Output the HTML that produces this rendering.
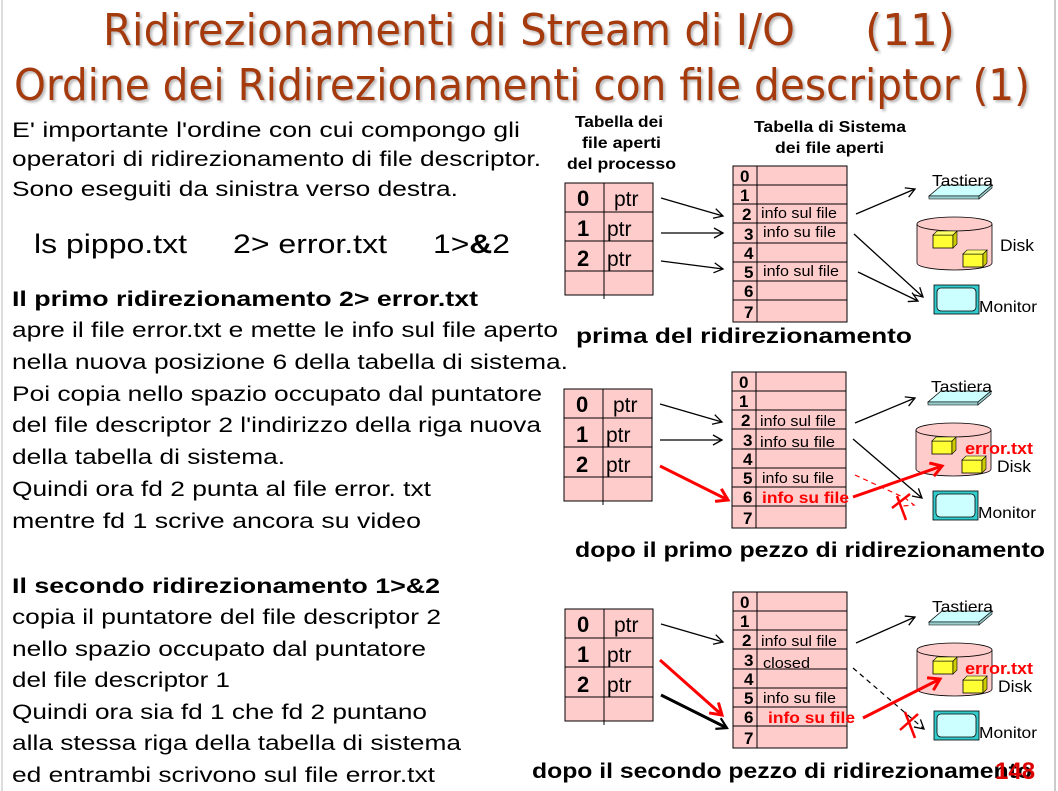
<!DOCTYPE html>
<html><head><meta charset="utf-8"><style>
html,body{margin:0;padding:0;background:#fff;}
svg{display:block;}
</style></head><body>
<svg width="1058" height="791" viewBox="0 0 1058 791" xmlns="http://www.w3.org/2000/svg" font-family="Liberation Sans, Arial, sans-serif">
<defs>
<marker id="ah" markerWidth="12" markerHeight="12" refX="10" refY="6" orient="auto" markerUnits="userSpaceOnUse"><path d="M1,1 L10,6 L1,11" fill="none" stroke="#000" stroke-width="1.3"/></marker>
<marker id="ahb" markerWidth="14" markerHeight="14" refX="11" refY="7" orient="auto" markerUnits="userSpaceOnUse"><path d="M1,1 L11,7 L1,13" fill="none" stroke="#000" stroke-width="2.2"/></marker>
<marker id="ahr" markerWidth="16" markerHeight="16" refX="12" refY="8" orient="auto" markerUnits="userSpaceOnUse"><path d="M1,1 L12,8 L1,15" fill="none" stroke="#f00" stroke-width="3"/></marker>
<filter id="sh" x="-5%" y="-5%" width="110%" height="120%"><feDropShadow dx="2" dy="2" stdDeviation="1.2" flood-color="#999" flood-opacity="0.7"/></filter>
<g id="base">
  <rect x="565" y="183" width="88" height="112" fill="#ffcccc" stroke="#000" stroke-width="1"/>
  <line x1="565" y1="212" x2="653" y2="212" stroke="#000"/>
  <line x1="565" y1="241" x2="653" y2="241" stroke="#000"/>
  <line x1="565" y1="271" x2="653" y2="271" stroke="#000"/>
  <line x1="604" y1="183" x2="604" y2="299" stroke="#000"/>
  <text x="577" y="206" font-size="22" font-weight="bold">0</text>
  <text x="577" y="236" font-size="22" font-weight="bold">1</text>
  <text x="577" y="266" font-size="22" font-weight="bold">2</text>
  <text x="614" y="206" font-size="21">ptr</text>
  <text x="607" y="236" font-size="21">ptr</text>
  <text x="607" y="266" font-size="21">ptr</text>
  <rect x="733" y="166" width="114" height="156" fill="#ffcccc" stroke="#000" stroke-width="1"/>
  <g stroke="#000" stroke-width="1">
  <line x1="733" y1="185" x2="847" y2="185"/><line x1="733" y1="204" x2="847" y2="204"/>
  <line x1="733" y1="223" x2="847" y2="223"/><line x1="733" y1="243" x2="847" y2="243"/>
  <line x1="733" y1="262" x2="847" y2="262"/><line x1="733" y1="281" x2="847" y2="281"/>
  <line x1="733" y1="300" x2="847" y2="300"/><line x1="757" y1="166" x2="757" y2="322"/>
  </g>
  <g font-size="17" font-weight="bold">
  <text x="740" y="182">0</text><text x="740" y="201">1</text><text x="742" y="220">2</text>
  <text x="744" y="240">3</text><text x="744" y="259">4</text><text x="744" y="278">5</text>
  <text x="744" y="297">6</text><text x="744" y="318">7</text>
  </g>
  <polygon points="929,196 942,185 992,185 979,196" fill="#ccffff" stroke="#000" stroke-width="0.8"/>
  <polygon points="929,196 979,196 979,199 929,199" fill="#99cccc" stroke="#000" stroke-width="0.6"/>
  <polygon points="979,196 992,185 992,188 979,199" fill="#99cccc" stroke="#000" stroke-width="0.6"/>
  <text x="932" y="186" font-size="16" textLength="61" lengthAdjust="spacingAndGlyphs">Tastiera</text>
  <path d="M917,224 L917,263 A37.5,7 0 0 0 992,263 L992,224" fill="#ffcccc" stroke="#000" stroke-width="0.8"/>
  <ellipse cx="954.5" cy="224" rx="37.5" ry="7" fill="#ffcccc" stroke="#000" stroke-width="0.8"/>
  <rect x="933" y="235" width="20" height="13" fill="#ffff33" stroke="#000" stroke-width="0.8"/>
  <polygon points="953,235 957,231 957,244 953,248" fill="#cccc00" stroke="#000" stroke-width="0.6"/>
  <polygon points="933,235 937,231 957,231 953,235" fill="#ffff66" stroke="#000" stroke-width="0.6"/>
  <rect x="963" y="254" width="20" height="13" fill="#ffff33" stroke="#000" stroke-width="0.8"/>
  <polygon points="983,254 987,250 987,263 983,267" fill="#cccc00" stroke="#000" stroke-width="0.6"/>
  <polygon points="963,254 967,250 987,250 983,254" fill="#ffff66" stroke="#000" stroke-width="0.6"/>
  <rect x="934" y="285" width="45" height="29" fill="#33cccc" stroke="#000" stroke-width="0.8"/>
  <rect x="937" y="288" width="39" height="23" rx="4" fill="#ccffff" stroke="#000" stroke-width="0.8"/>
  <text x="979" y="312" font-size="16" textLength="58" lengthAdjust="spacingAndGlyphs">Monitor</text>
</g>
</defs>

<line x1="1055" y1="0" x2="1055" y2="791" stroke="#ccc" stroke-width="2"/>
<line x1="2" y1="0" x2="2" y2="791" stroke="#ddd" stroke-width="2"/>

<g fill="#a53a08" filter="url(#sh)" font-family="DejaVu Sans Condensed, DejaVu Sans, sans-serif">
<text x="103" y="45" font-size="44" textLength="692" lengthAdjust="spacingAndGlyphs">Ridirezionamenti di Stream di I/O</text>
<text x="865" y="45" font-size="44" textLength="90" lengthAdjust="spacingAndGlyphs">(11)</text>
<text x="14" y="100" font-size="44" textLength="1016" lengthAdjust="spacingAndGlyphs">Ordine dei Ridirezionamenti con file descriptor (1)</text>
</g>

<g font-size="21" fill="#000">
<text x="12" y="137" textLength="508" lengthAdjust="spacingAndGlyphs">E'  importante l'ordine con cui compongo gli</text>
<text x="12" y="166" textLength="529" lengthAdjust="spacingAndGlyphs">operatori di ridirezionamento di file descriptor.</text>
<text x="12" y="196" textLength="446" lengthAdjust="spacingAndGlyphs">Sono eseguiti da sinistra verso destra.</text>
<text x="34" y="253" font-size="27" textLength="153" lengthAdjust="spacingAndGlyphs">ls pippo.txt</text>
<text x="233" y="253" font-size="27" textLength="154" lengthAdjust="spacingAndGlyphs">2&gt; error.txt</text>
<text x="433" y="253" font-size="27" textLength="77" lengthAdjust="spacingAndGlyphs">1&gt;<tspan font-weight="bold">&amp;</tspan>2</text>
<text x="12" y="306" font-weight="bold" textLength="466" lengthAdjust="spacingAndGlyphs">Il primo ridirezionamento  2&gt; error.txt</text>
<text x="12" y="337" textLength="546" lengthAdjust="spacingAndGlyphs">apre il file error.txt e mette le info sul file aperto</text>
<text x="12" y="369" textLength="556" lengthAdjust="spacingAndGlyphs">nella nuova posizione 6 della tabella di sistema.</text>
<text x="12" y="401" textLength="530" lengthAdjust="spacingAndGlyphs">Poi copia nello spazio occupato dal puntatore</text>
<text x="12" y="432" textLength="529" lengthAdjust="spacingAndGlyphs">del file descriptor 2 l'indirizzo della riga nuova</text>
<text x="12" y="464" textLength="273" lengthAdjust="spacingAndGlyphs">della tabella di sistema.</text>
<text x="12" y="496" textLength="419" lengthAdjust="spacingAndGlyphs">Quindi ora fd 2 punta al file error. txt</text>
<text x="12" y="528" textLength="409" lengthAdjust="spacingAndGlyphs">mentre fd  1 scrive ancora su video</text>
<text x="12" y="593" font-weight="bold" textLength="428" lengthAdjust="spacingAndGlyphs">Il secondo ridirezionamento  1&gt;&amp;2</text>
<text x="12" y="624" textLength="429" lengthAdjust="spacingAndGlyphs">copia il puntatore del file descriptor 2</text>
<text x="12" y="656" textLength="414" lengthAdjust="spacingAndGlyphs">nello spazio occupato dal puntatore</text>
<text x="12" y="687" textLength="218" lengthAdjust="spacingAndGlyphs">del file descriptor 1</text>
<text x="12" y="719" textLength="415" lengthAdjust="spacingAndGlyphs">Quindi ora sia fd 1 che fd 2 puntano</text>
<text x="12" y="750" textLength="449" lengthAdjust="spacingAndGlyphs">alla stessa riga della tabella di sistema</text>
<text x="12" y="782" textLength="423" lengthAdjust="spacingAndGlyphs">ed entrambi scrivono sul file error.txt</text>
</g>

<g font-size="16" font-weight="bold" lengthAdjust="spacingAndGlyphs">
<text x="575" y="127" textLength="88" lengthAdjust="spacingAndGlyphs">Tabella dei</text>
<text x="582" y="148" textLength="79" lengthAdjust="spacingAndGlyphs">file aperti</text>
<text x="567" y="169" textLength="109" lengthAdjust="spacingAndGlyphs">del processo</text>
<text x="754" y="132" textLength="152" lengthAdjust="spacingAndGlyphs">Tabella di Sistema</text>
<text x="775" y="153" textLength="109" lengthAdjust="spacingAndGlyphs">dei file aperti</text>
</g>

<!-- Diagram 1 -->
<use href="#base"/>
<text x="1000" y="251" font-size="17" textLength="34" lengthAdjust="spacingAndGlyphs">Disk</text>
<g font-size="15">
<text x="761" y="218" textLength="76" lengthAdjust="spacingAndGlyphs">info sul file</text>
<text x="763" y="237" textLength="73" lengthAdjust="spacingAndGlyphs">info su file</text>
<text x="763" y="276" textLength="76" lengthAdjust="spacingAndGlyphs">info sul file</text></g>
<g stroke="#000" stroke-width="1.3" marker-end="url(#ah)">
<line x1="661" y1="198" x2="723" y2="216"/><line x1="661" y1="233" x2="723" y2="233"/><line x1="661" y1="261" x2="723" y2="269"/>
<line x1="856" y1="214" x2="915" y2="189"/><line x1="854" y1="234" x2="923" y2="297"/><line x1="858" y1="272" x2="918" y2="301"/>
</g>
<text x="576" y="343" font-size="21" font-weight="bold" textLength="336" lengthAdjust="spacingAndGlyphs">prima del ridirezionamento</text>

<!-- Diagram 2 -->
<use href="#base" transform="translate(-1,206)"/>
<text x="997" y="472" font-size="17" textLength="34" lengthAdjust="spacingAndGlyphs">Disk</text>
<g font-size="15">
<text x="760" y="426" textLength="76" lengthAdjust="spacingAndGlyphs">info sul file</text>
<text x="760" y="447" textLength="75" lengthAdjust="spacingAndGlyphs">info su file</text>
<text x="762" y="483" textLength="72" lengthAdjust="spacingAndGlyphs">info su file</text></g>
<text x="762" y="503" font-size="16" font-weight="bold" fill="#f00" textLength="87" lengthAdjust="spacingAndGlyphs">info su file</text>
<text x="965" y="454" font-size="17" font-weight="bold" fill="#f00" textLength="68" lengthAdjust="spacingAndGlyphs">error.txt</text>
<g stroke="#000" stroke-width="1.3" marker-end="url(#ah)">
<line x1="660" y1="404" x2="722" y2="422"/><line x1="660" y1="440" x2="722" y2="440"/>
<line x1="855" y1="423" x2="915" y2="398"/><line x1="853" y1="439" x2="922" y2="498"/>
</g>
<line x1="660" y1="466" x2="728" y2="500" stroke="#f00" stroke-width="3" marker-end="url(#ahr)"/>
<line x1="853" y1="497" x2="942" y2="466" stroke="#f00" stroke-width="3" marker-end="url(#ahr)"/>
<path d="M855,475 L905,498 L914,505 L903,506" fill="none" stroke="#f00" stroke-width="1.2" stroke-dasharray="5,4"/>
<path d="M892,508 L910,494 M897,496 L906,520" stroke="#f00" stroke-width="2.5" fill="none"/>
<text x="575" y="557" font-size="21" font-weight="bold" textLength="470" lengthAdjust="spacingAndGlyphs">dopo il primo pezzo di ridirezionamento</text>

<!-- Diagram 3 -->
<use href="#base" transform="translate(0,426)"/>
<text x="998" y="692" font-size="17" textLength="34" lengthAdjust="spacingAndGlyphs">Disk</text>
<g font-size="15">
<text x="761" y="646" textLength="76" lengthAdjust="spacingAndGlyphs">info sul file</text>
<text x="763" y="668" textLength="47" lengthAdjust="spacingAndGlyphs">closed</text>
<text x="763" y="703" textLength="73" lengthAdjust="spacingAndGlyphs">info su file</text></g>
<text x="768" y="723" font-size="16" font-weight="bold" fill="#f00" textLength="87" lengthAdjust="spacingAndGlyphs">info su file</text>
<text x="965" y="674" font-size="17" font-weight="bold" fill="#f00" textLength="68" lengthAdjust="spacingAndGlyphs">error.txt</text>
<g stroke="#000" stroke-width="1.3" marker-end="url(#ah)">
<line x1="661" y1="624" x2="723" y2="642"/><line x1="856" y1="643" x2="915" y2="617"/>
</g>
<line x1="853" y1="668" x2="924" y2="729" stroke="#000" stroke-width="1.2" stroke-dasharray="5,4" marker-end="url(#ah)"/>
<line x1="660" y1="660" x2="722" y2="715" stroke="#f00" stroke-width="3" marker-end="url(#ahr)"/>
<line x1="661" y1="695" x2="727" y2="728" stroke="#000" stroke-width="3" marker-end="url(#ahb)"/>
<line x1="863" y1="718" x2="940" y2="679" stroke="#f00" stroke-width="3" marker-end="url(#ahr)"/>
<path d="M900,730 L918,714 M905,712 L915,738" stroke="#f00" stroke-width="2.5" fill="none"/>
<text x="532" y="778" font-size="21" font-weight="bold" textLength="500" lengthAdjust="spacingAndGlyphs">dopo il secondo pezzo di ridirezionamento</text>
<text x="995" y="779" font-size="24" font-weight="bold" fill="#d00">148</text>
</svg>
</body></html>
